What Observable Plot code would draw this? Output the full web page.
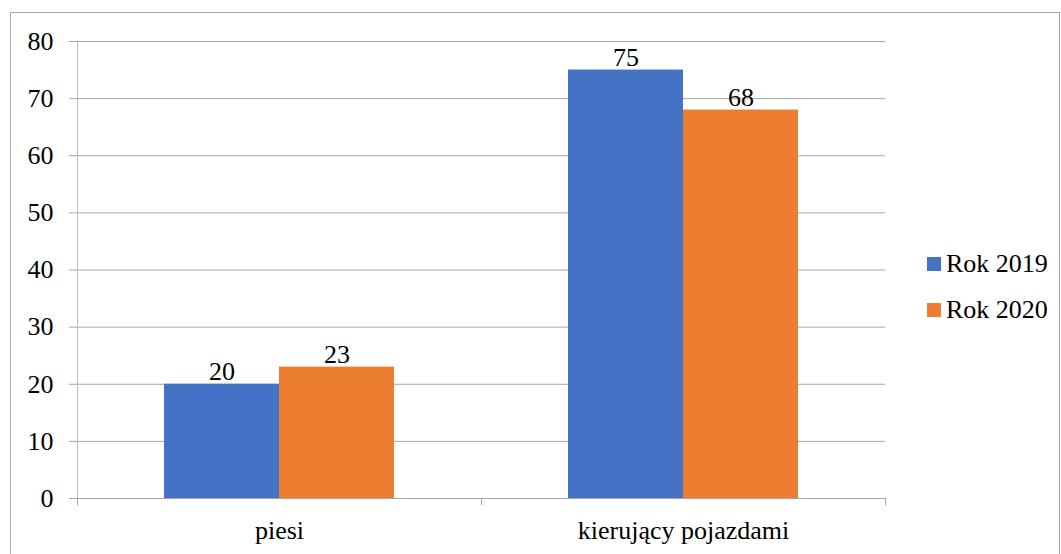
<!DOCTYPE html>
<html><head><meta charset="utf-8">
<script src="https://cdn.jsdelivr.net/npm/d3@7"></script>
<script src="https://cdn.jsdelivr.net/npm/@observablehq/plot@0.6"></script>
<style>
body{margin:0;font-family:'Liberation Serif';font-size:26px;background:#fff}
#wrap{position:relative;width:1061px;height:554px;overflow:hidden}
#border{position:absolute;left:10px;top:12px;width:1050px;height:560px;border:1px solid #a6a6a6;box-sizing:border-box}
#chart{position:absolute;left:0;top:0}
#legend{position:absolute;left:927px;top:249px}
.row{display:flex;align-items:center;height:30px;margin-bottom:16px;color:#000;line-height:30px}
.sw{width:14px;height:14px;margin-right:5px;flex:none}
</style></head><body>
<div id="wrap"><div id="border"></div><div id="chart"></div><div id="legend"></div></div>
<script>
const categories = ["piesi", "kierujący pojazdami"];
const seriesNames = ["Rok 2019", "Rok 2020"];
const values2019 = [20, 75];
const values2020 = [23, 68];
const yTicks = [0, 10, 20, 30, 40, 50, 60, 70, 80];
const colors = ["#4472C4", "#ED7D31"];

const table = [];
categories.forEach((c, i) => {
  table.push({category: c, series: seriesNames[0], value: values2019[i]});
  table.push({category: c, series: seriesNames[1], value: values2020[i]});
});

const W = 1061, H = 554, ML = 77, MR = 176, MT = 41, MB = 56;
const bw = (W - ML - MR) / categories.length;
const barW = 115;
const pad = (bw - 2 * barW) / 2;
const grid = "#a6a6a6";

const s0 = table.filter(d => d.series === seriesNames[0]);
const s1 = table.filter(d => d.series === seriesNames[1]);

const chart = Plot.plot({
  width: W, height: H,
  marginLeft: ML, marginRight: MR, marginTop: MT, marginBottom: MB,
  style: {fontFamily: "Liberation Serif", fontSize: "26px"},
  x: {domain: categories, padding: 0, label: null},
  y: {domain: [0, 80], label: null},
  color: {domain: seriesNames, range: colors},
  marks: [
    Plot.gridY(yTicks, {stroke: grid, strokeOpacity: 1}),
    Plot.axisY({ticks: yTicks, tickSize: 8, tickPadding: 16, stroke: grid, label: null, fontSize: 26}),
    Plot.frame({anchor: "left", stroke: "#bdbdbd"}),
    Plot.barY(s0, {x: "category", y: "value", fill: "series", insetLeft: pad, insetRight: bw - pad - barW}),
    Plot.barY(s1, {x: "category", y: "value", fill: "series", insetLeft: pad + barW, insetRight: pad}),
    Plot.gridY([0], {stroke: grid, strokeOpacity: 1}),
    Plot.text(s0, {x: "category", y: "value", text: "value", dx: -barW / 2, dy: -4, lineAnchor: "bottom", fontSize: 26, fill: "#000"}),
    Plot.text(s1, {x: "category", y: "value", text: "value", dx: barW / 2, dy: -4, lineAnchor: "bottom", fontSize: 26, fill: "#000"}),
    Plot.axisX({tickSize: 0, tickPadding: 22, label: null, fontSize: 26}),
    Plot.axisX({tickSize: 7, fill: "none", dx: -bw / 2, stroke: grid, label: null}),
    Plot.axisX({ticks: [categories[categories.length - 1]], tickSize: 7, fill: "none", dx: bw / 2, stroke: grid, label: null})
  ]
});
document.getElementById("chart").appendChild(chart);

const legend = document.getElementById("legend");
seriesNames.forEach((name, i) => {
  const row = document.createElement("div");
  row.className = "row";
  const sw = document.createElement("div");
  sw.className = "sw";
  sw.style.background = colors[i];
  const t = document.createElement("span");
  t.textContent = name;
  row.appendChild(sw);
  row.appendChild(t);
  legend.appendChild(row);
});
</script>
</body></html>
